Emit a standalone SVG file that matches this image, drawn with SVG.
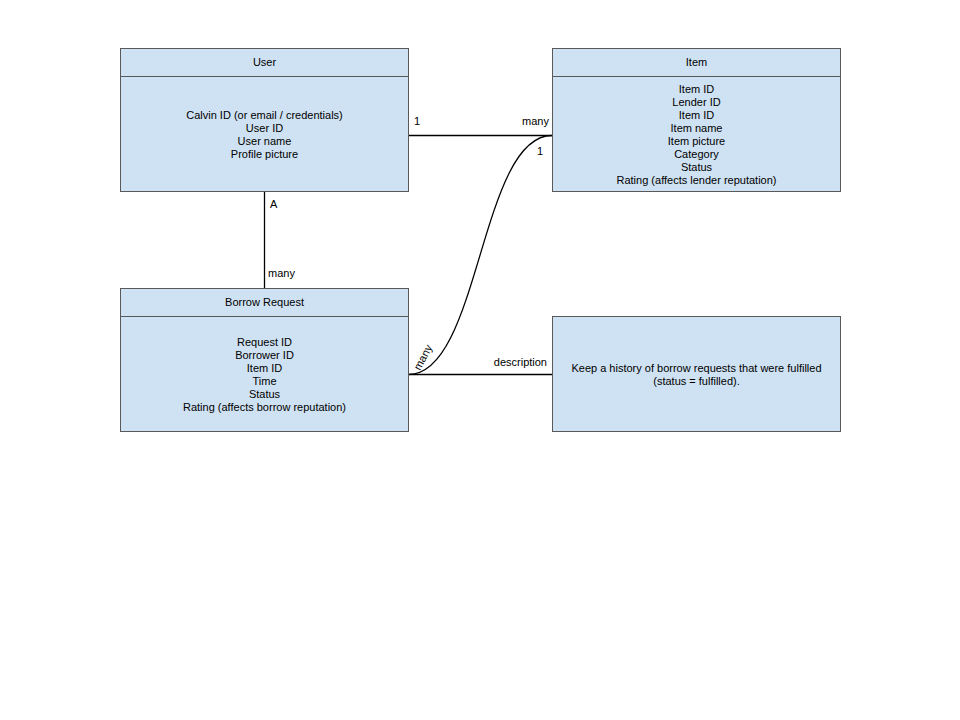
<svg xmlns="http://www.w3.org/2000/svg" width="960" height="720" viewBox="0 0 960 720">
<style>
.box{fill:#cfe2f3;stroke:#595959;stroke-width:1}
.div{stroke:#595959;stroke-width:1}
text{font-family:"Liberation Sans",Arial,sans-serif;font-size:11px;fill:#000}
.c{text-anchor:middle}
.e{text-anchor:end}
.conn{fill:none;stroke:#000;stroke-width:1.3}
</style>
<rect width="960" height="720" fill="#fff"/>
<g id="connectors">
<path class="conn" d="M408.5 135.5 H552"/>
<path class="conn" d="M264.5 191.5 V288"/>
<path class="conn" d="M408.5 374.5 C480 374.5 480 135.5 552 135.5"/>
<path class="conn" d="M408.5 374.5 H552"/>
<text x="414" y="125">1</text>
<text class="e" x="549" y="125">many</text>
<text x="537" y="155">1</text>
<text x="270" y="208">A</text>
<text x="268" y="277">many</text>
<text class="e" x="547" y="366">description</text>
<text transform="translate(420,371) rotate(-62)">many</text>
</g>
<g id="user">
<rect class="box" x="120.5" y="48.5" width="288" height="143"/>
<line class="div" x1="120.5" y1="76.5" x2="408.5" y2="76.5"/>
<text class="c" x="264.5" y="66">User</text>
<text class="c" x="264.5" y="119">Calvin ID (or email / credentials)</text>
<text class="c" x="264.5" y="132">User ID</text>
<text class="c" x="264.5" y="145">User name</text>
<text class="c" x="264.5" y="158">Profile picture</text>
</g>
<g id="item">
<rect class="box" x="552.5" y="48.5" width="288" height="143"/>
<line class="div" x1="552.5" y1="76.5" x2="840.5" y2="76.5"/>
<text class="c" x="696.5" y="66">Item</text>
<text class="c" x="696.5" y="93">Item ID</text>
<text class="c" x="696.5" y="106">Lender ID</text>
<text class="c" x="696.5" y="119">Item ID</text>
<text class="c" x="696.5" y="132">Item name</text>
<text class="c" x="696.5" y="145">Item picture</text>
<text class="c" x="696.5" y="158">Category</text>
<text class="c" x="696.5" y="171">Status</text>
<text class="c" x="696.5" y="184">Rating (affects lender reputation)</text>
</g>
<g id="borrow-request">
<rect class="box" x="120.5" y="288.5" width="288" height="143"/>
<line class="div" x1="120.5" y1="316.5" x2="408.5" y2="316.5"/>
<text class="c" x="264.5" y="306">Borrow Request</text>
<text class="c" x="264.5" y="346">Request ID</text>
<text class="c" x="264.5" y="359">Borrower ID</text>
<text class="c" x="264.5" y="372">Item ID</text>
<text class="c" x="264.5" y="385">Time</text>
<text class="c" x="264.5" y="398">Status</text>
<text class="c" x="264.5" y="411">Rating (affects borrow reputation)</text>
</g>
<g id="description">
<rect class="box" x="552.5" y="316.5" width="288" height="115"/>
<text class="c" x="696.5" y="372">Keep a history of borrow requests that were fulfilled</text>
<text class="c" x="696.5" y="385">(status = fulfilled).</text>
</g>
</svg>
